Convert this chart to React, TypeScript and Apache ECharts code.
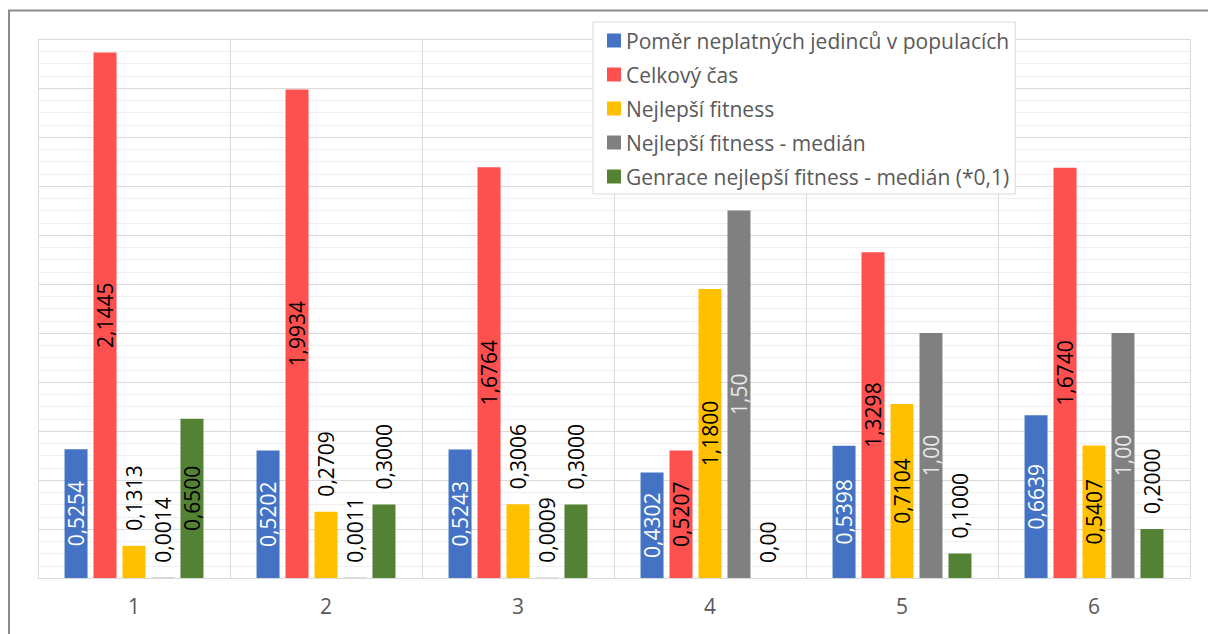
import React, { useEffect, useRef } from "react";
import * as echarts from "echarts";

const categories = ["1", "2", "3", "4", "5", "6"];
const seriesNames = [
  "Poměr neplatných jedinců v populacích",
  "Celkový čas",
  "Nejlepší fitness",
  "Nejlepší fitness - medián",
  "Genrace nejlepší fitness - medián (*0,1)",
];
const ratioValues = [0.5254, 0.5202, 0.5243, 0.4302, 0.5398, 0.6639];
const timeValues = [2.1445, 1.9934, 1.6764, 0.5207, 1.3298, 1.674];
const fitnessValues = [0.1313, 0.2709, 0.3006, 1.18, 0.7104, 0.5407];
const medianValues = [0.0014, 0.0011, 0.0009, 1.5, 1.0, 1.0];
const generationValues = [0.65, 0.3, 0.3, 0.0, 0.1, 0.2];
const ratioDecimals = [4, 4, 4, 4, 4, 4];
const timeDecimals = [4, 4, 4, 4, 4, 4];
const fitnessDecimals = [4, 4, 4, 4, 4, 4];
const medianDecimals = [4, 4, 4, 2, 2, 2];
const generationDecimals = [4, 4, 4, 2, 4, 4];

const colors = ["#4472C4", "#FF5050", "#FFC000", "#808080", "#548235"];
const insideLabelColors = ["#ffffff", "#000000", "#000000", "#e8e8e8", "#000000"];
const FONT = "'Open Sans', 'Noto Sans', sans-serif";

export default function App() {
  const ref = useRef<HTMLDivElement>(null);
  useEffect(() => {
    if (!ref.current) return;
    const chart = echarts.init(ref.current, undefined, { renderer: "svg" });
    const allValues = [ratioValues, timeValues, fitnessValues, medianValues, generationValues];
    const allDecimals = [ratioDecimals, timeDecimals, fitnessDecimals, medianDecimals, generationDecimals];
    const series = allValues.map((vals, si) => ({
      name: seriesNames[si],
      type: "bar",
      barWidth: 23,
      barGap: "26%",
      itemStyle: { color: colors[si] },
      data: vals.map((v, i) => {
        const text = v.toFixed(allDecimals[si][i]).replace(".", ",");
        const inside = v >= 0.35;
        return {
          value: v,
          label: inside
            ? {
                show: true,
                position: "inside",
                rotate: 90,
                color: insideLabelColors[si],
                fontSize: 21,
                fontFamily: FONT,
                formatter: text,
              }
            : {
                show: true,
                position: "top",
                rotate: 90,
                align: "left",
                verticalAlign: "middle",
                distance: 15,
                color: "#000000",
                fontSize: 21,
                fontFamily: FONT,
                formatter: text,
              },
        };
      }),
    }));
    chart.setOption({
      animation: false,
      backgroundColor: "#ffffff",
      textStyle: { fontFamily: FONT },
      grid: { left: 38, right: 18, top: 39, bottom: 56, containLabel: false },
      legend: {
        orient: "vertical",
        left: 593,
        top: 22,
        padding: [8, 6, 7, 14],
        itemGap: 13,
        itemWidth: 14,
        itemHeight: 14,
        icon: "rect",
        backgroundColor: "#ffffff",
        borderColor: "#d9d9d9",
        borderWidth: 1,
        textStyle: { fontSize: 21, color: "#595959", fontFamily: FONT },
        data: seriesNames,
      },
      xAxis: {
        type: "category",
        data: categories,
        axisTick: { show: false },
        axisLine: { lineStyle: { color: "#d9d9d9", width: 1 } },
        splitLine: { show: true, lineStyle: { color: "#d9d9d9", width: 1 } },
        axisLabel: { color: "#595959", fontSize: 21, margin: 17, fontFamily: FONT },
      },
      yAxis: {
        type: "value",
        min: 0,
        max: 2.2,
        interval: 0.2,
        axisLabel: { show: false },
        axisLine: { show: false },
        axisTick: { show: false },
        splitLine: { show: true, lineStyle: { color: "#d9d9d9", width: 1 } },
        minorTick: { show: false, splitNumber: 4 },
        minorSplitLine: { show: true, lineStyle: { color: "#efefef", width: 1 } },
      },
      graphic: [
        {
          type: "rect",
          shape: { x: 9, y: 10.5, width: 1400, height: 800 },
          style: { fill: "none", stroke: "#8c8c8c", lineWidth: 2 },
          silent: true,
          z: 100,
        },
      ],
      series,
    });
    return () => chart.dispose();
  }, []);
  return (
    <div
      ref={ref}
      style={{ position: "absolute", left: 0, top: 0, width: 1208, height: 634 }}
    />
  );
}
